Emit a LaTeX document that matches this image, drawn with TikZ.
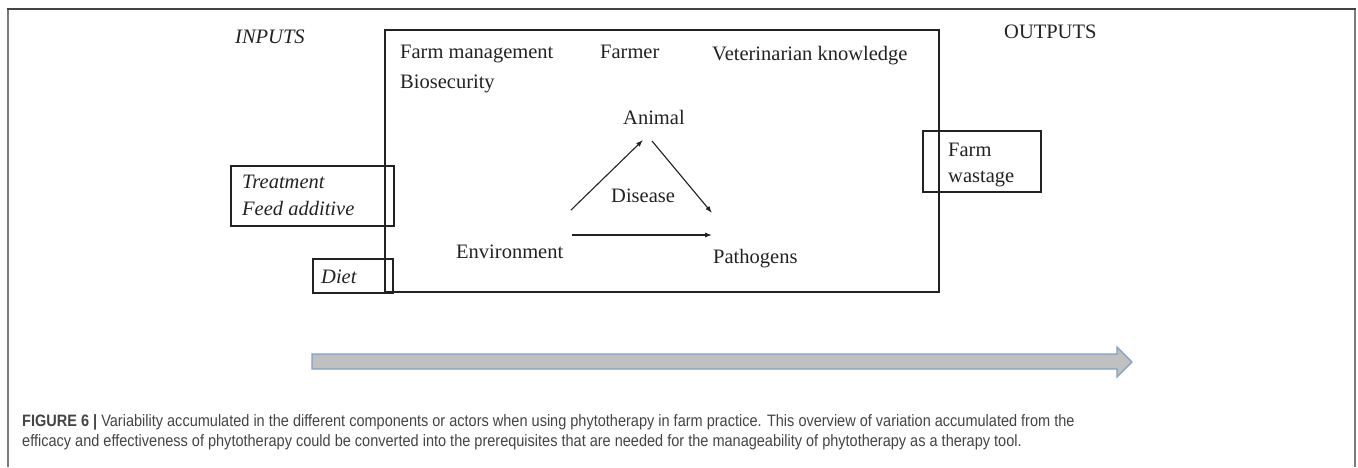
\documentclass[tikz,border=0pt]{standalone}
\usepackage{fontspec}
\setmainfont{Liberation Serif}
\newfontfamily\capfont[FakeStretch=0.88]{Liberation Sans}
\usetikzlibrary{arrows.meta}
\definecolor{framedark}{HTML}{444444}
\definecolor{frameside}{HTML}{7A7A7A}
\definecolor{ink}{HTML}{222222}
\definecolor{capink}{HTML}{444444}
\definecolor{arrowfill}{HTML}{C0C0C0}
\definecolor{arrowline}{HTML}{7F9FC6}
\tikzset{
  lbl/.style={anchor=base west, inner sep=0pt, text=ink, font=\fontsize{20.5}{24}\selectfont},
  ilbl/.style={lbl, font=\fontsize{20.5}{24}\selectfont\itshape},
  boxline/.style={draw=ink, line width=1.4pt},
  thinarrow/.style={draw=ink, line width=1.1pt, -{Latex[length=7pt,width=5pt]}},
  caplbl/.style={anchor=base west, inner sep=0pt, text=capink, font=\fontsize{16.5}{19}\capfont}
}
\begin{document}
\begin{tikzpicture}[x=1pt,y=-1pt]
\useasboundingbox (0,0) rectangle (1358,467);
% outer frame
\draw[frameside, line width=2pt] (7.5,467) -- (7.5,8.5);
\draw[frameside, line width=2pt] (1355,8.5) -- (1355,467);
\draw[framedark, line width=2pt] (6.5,8.5) -- (1356,8.5);
% main box
\draw[boxline] (385,30) rectangle (939,292);
% input / output boxes
\draw[boxline] (231,166) rectangle (394,226);
\draw[boxline] (313,259) rectangle (393,293);
\draw[boxline] (923,131) rectangle (1041,192);
% labels
\node[ilbl] (inputs) at (235,43) {INPUTS};
\node[lbl] (outputs) at (1004,38) {OUTPUTS};
\node[lbl] (farmman) at (400,58) {Farm management};
\node[lbl] (bio) at (400,88) {Biosecurity};
\node[lbl] (farmer) at (600,58) {Farmer};
\node[lbl] (vet) at (712,60) {Veterinarian knowledge};
\node[lbl] (animal) at (623,124) {Animal};
\node[lbl] (disease) at (611,202) {Disease};
\node[lbl] (env) at (456,258) {Environment};
\node[lbl] (path) at (713,263) {Pathogens};
\node[ilbl] (treat) at (242,188) {Treatment};
\node[ilbl] (feed) at (242,215) {Feed additive};
\node[ilbl] (diet) at (321,283) {Diet};
\node[lbl] (farm) at (948,156) {Farm};
\node[lbl] (waste) at (948,182) {wastage};
% arrows
\coordinate (e1) at (571,210);
\coordinate (a1) at (643,140);
\coordinate (a2) at (652,141);
\coordinate (p1) at (712,213);
\coordinate (e2) at (572,235);
\coordinate (p2) at (712,235);
\draw[thinarrow] (e1) -- (a1);
\draw[thinarrow] (a2) -- (p1);
\draw[thinarrow] (e2) -- (p2);
% big arrow
\draw[fill=arrowfill, draw=arrowline, line width=1.3pt, line join=miter]
  (312,354) -- (1117,354) -- (1117,347) -- (1132,362) -- (1117,377) -- (1117,369) -- (312,369) -- cycle;
% caption
\node[caplbl] (cap1) at (22,426) {\textcolor{framedark}{\bfseries FIGURE 6 |} Variability accumulated in the different components or actors when using phytotherapy in farm practice. This overview of variation accumulated from the};
\node[caplbl] (cap2) at (22,446) {efficacy and effectiveness of phytotherapy could be converted into the prerequisites that are needed for the manageability of phytotherapy as a therapy tool.};
\end{tikzpicture}
\end{document}
